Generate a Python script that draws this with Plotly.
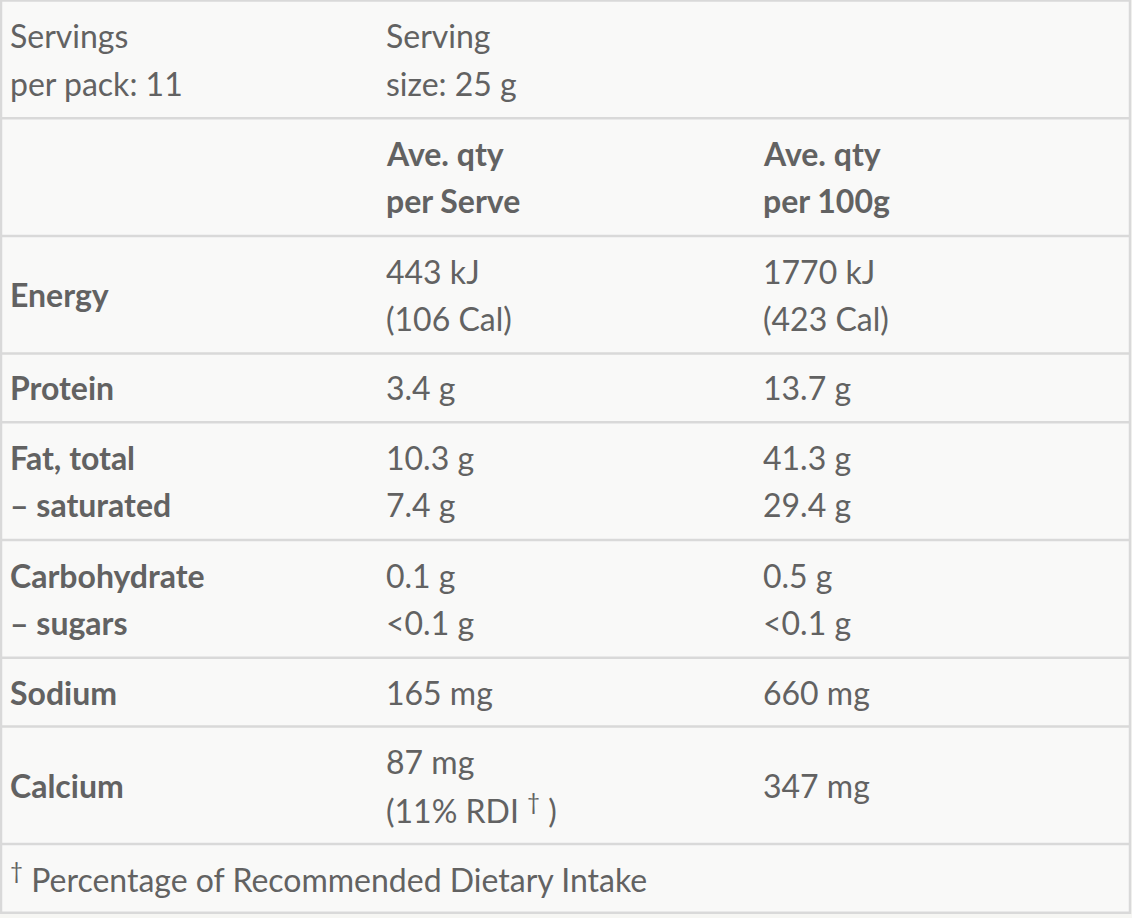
import plotly.graph_objects as go

# Table content (one inner list per cell, one string per text line)
col_label = [["Servings", "per pack: 11"], [""], ["Energy"], ["Protein"],
             ["Fat, total", "– saturated"], ["Carbohydrate", "– sugars"],
             ["Sodium"], ["Calcium"]]
col_serve = [["Serving", "size: 25 g"], ["Ave. qty", "per Serve"],
             ["443 kJ", "(106 Cal)"], ["3.4 g"], ["10.3 g", "7.4 g"],
             ["0.1 g", "<0.1 g"], ["165 mg"], ["87 mg", "(11% RDI <sup>†</sup> )"]]
col_100g = [[""], ["Ave. qty", "per 100g"], ["1770 kJ", "(423 Cal)"], ["13.7 g"],
            ["41.3 g", "29.4 g"], ["0.5 g", "<0.1 g"], ["660 mg"], ["347 mg"]]
footnote = ["<sup>†</sup> Percentage of Recommended Dietary Intake"]

# Styling
W, H = 1132, 918
FONT = "Lato"
TEXT_COLOR = "#626262"
LINE_COLOR = "#d9d9d9"
FILL = "#f9f9f8"
FONT_SIZE = 32
ROW_LINE_H = 49     # row height added per text line
TEXT_LINE_H = 47.5  # spacing between text lines inside a cell
ROW_PAD = 19.7
COL_X = [8, 384, 761]
TOP = 0.5

fig = go.Figure()
fig.add_trace(go.Scatter(x=[0, W], y=[0, H], mode="markers",
                         marker=dict(opacity=0), hoverinfo="skip", showlegend=False))

rows = [list(r) for r in zip(col_label, col_serve, col_100g)] + [[footnote, [], []]]

shapes = []
annotations = []
y = TOP
for i, row in enumerate(rows):
    n_lines = max(len(cell) for cell in row)
    h = ROW_PAD + ROW_LINE_H * n_lines
    mid = y + h / 2
    for c, cell in enumerate(row):
        # bold for nutrient names and the column headings
        bold = (c == 0 and 2 <= i <= 7) or (i == 1 and c > 0)
        for k, line in enumerate(cell):
            if not line:
                continue
            ly = mid + (k - (len(cell) - 1) / 2) * TEXT_LINE_H
            txt = f"<b>{line}</b>" if bold else line
            annotations.append(dict(
                x=COL_X[c], y=ly, xref="x", yref="y", text=txt,
                showarrow=False, xanchor="left", yanchor="middle", align="left",
                font=dict(family=FONT, size=FONT_SIZE, color=TEXT_COLOR),
            ))
    y += h
    if i < len(rows) - 1:
        shapes.append(dict(type="line", xref="x", yref="y", x0=1, x1=W - 2,
                           y0=y, y1=y, line=dict(color=LINE_COLOR, width=2.5)))

bottom = y
shapes.insert(0, dict(type="rect", xref="x", yref="y", x0=1, x1=W - 2, y0=TOP, y1=bottom,
                      fillcolor=FILL, line=dict(color=LINE_COLOR, width=2.5), layer="below"))

fig.update_layout(
    width=W, height=H,
    margin=dict(l=0, r=0, t=0, b=0),
    paper_bgcolor="#f6f6f3", plot_bgcolor="#f6f6f3",
    xaxis=dict(range=[0, W], visible=False, fixedrange=True),
    yaxis=dict(range=[H, 0], visible=False, fixedrange=True),
    shapes=shapes, annotations=annotations,
    showlegend=False,
)

# drop the browser's default 8px body margin so the figure sits at the window origin
fig.write_html("out.html", config={"displayModeBar": False},
               post_script="document.body.style.margin='0';")
